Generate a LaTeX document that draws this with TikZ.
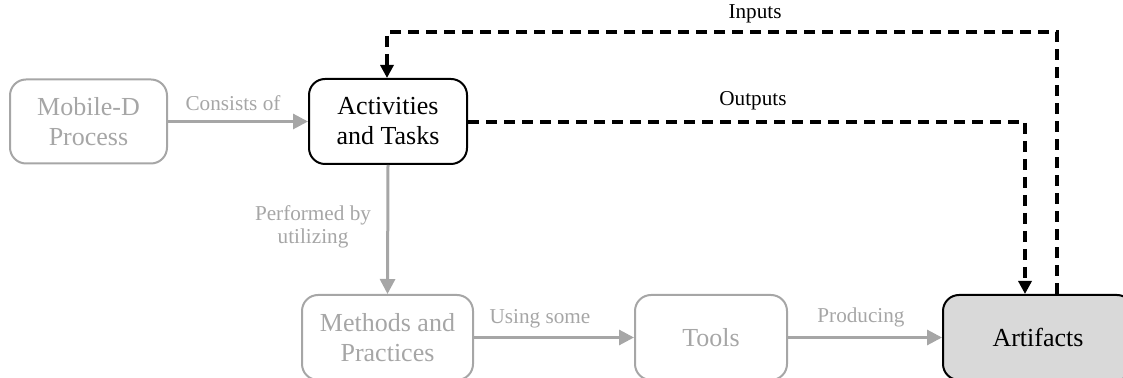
\documentclass[tikz,border=0pt]{standalone}
\usepackage{fontspec}
\setmainfont{Liberation Serif}
\usetikzlibrary{arrows.meta}
\definecolor{lgray}{HTML}{A6A6A6}
\definecolor{afill}{HTML}{D9D9D9}
\tikzset{
  box/.style={draw, rounded corners=8pt, line width=1pt, align=center,
    font=\fontsize{13}{15}\selectfont, inner sep=0pt},
  graybox/.style={box, draw=lgray, text=lgray},
  blackbox/.style={box, draw=black, text=black},
  grayarrow/.style={draw=lgray, line width=1.5pt, -{Triangle[length=7.5pt,width=7.5pt]}},
  dasharrow/.style={draw=black, line width=1.6pt, dash pattern=on 5.5pt off 3.5pt,
    -{Triangle[length=6.5pt,width=6.5pt]}},
  lbl/.style={font=\fontsize{10.6}{11.8}\selectfont, align=center, inner sep=0pt},
  graylbl/.style={lbl, text=lgray},
}
\begin{document}
\begin{tikzpicture}[x=0.5pt,y=-0.5pt]
\useasboundingbox (0,0) rectangle (1123,378);
\clip (0,0) rectangle (1123,378);
\node[graybox, minimum width=78.5pt, minimum height=42pt] (mob) at (88.5,121.5) {Mobile-D\\Process};
\node[blackbox, minimum width=79pt, minimum height=42.5pt] (act) at (388,121.5) {Activities\\and Tasks};
\node[graybox, minimum width=85.5pt, minimum height=42.5pt] (met) at (387.5,337.5) {Methods and\\Practices};
\node[graybox, minimum width=76pt, minimum height=42.5pt] (tool) at (711,337.5) {Tools};
\node[blackbox, fill=afill, minimum width=95pt, minimum height=42.5pt] (art) at (1038,337.5) {Artifacts};

\draw[grayarrow] (mob.east) -- (act.west);
\draw[grayarrow] (act.south) -- (met.north);
\draw[grayarrow] (met.east) -- (tool.west);
\draw[grayarrow] (tool.east) -- (art.west);

\node[graylbl] (l1) at (233,103) {Consists of};
\node[graylbl] (l2) at (313,227) {Performed by\\utilizing};
\node[graylbl] (l3) at (540,319) {Using some};
\node[graylbl] (l4) at (861,317) {Producing};

\coordinate (oc) at (1025,122);
\coordinate (ic1) at (1057,32);
\coordinate (ic2) at (387,32);
\draw[dasharrow] (act.east |- oc) -- (oc) -- (oc |- art.north);
\draw[dasharrow] (ic1 |- art.north) -- (ic1) -- (ic2) -- (ic2 |- act.north);

\node[lbl] (inl) at (755,14) {Inputs};
\node[lbl] (outl) at (753,101) {Outputs};
\end{tikzpicture}
\end{document}
